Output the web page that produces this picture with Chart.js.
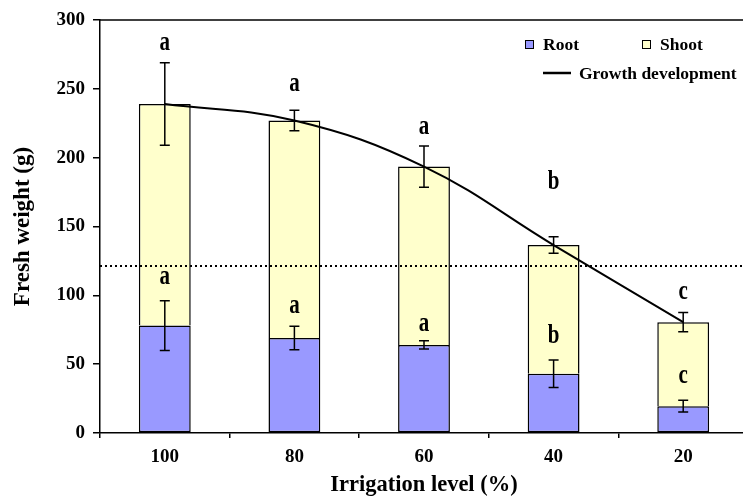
<!DOCTYPE html>
<html>
<head>
<meta charset="utf-8">
<script src="https://cdn.jsdelivr.net/npm/chart.js@4/dist/chart.umd.min.js"></script>
<style>
  html, body { margin: 0; padding: 0; background: #fff; overflow: hidden; }
  #wrap { width: 743px; height: 499px; overflow: hidden; }
</style>
</head>
<body>
<div id="wrap"><canvas id="c" width="748" height="499"></canvas></div>
<script>
// Fresh weight of root and shoot at each irrigation level
const categories = ['100', '80', '60', '40', '20'];
const rootValues = [78, 69, 64, 43, 19.5];
const shootValues = [161, 158, 129.5, 93.5, 61];
const rootErrors = [18, 8.5, 3, 10, 4.3];
const totalErrors = [30, 7.5, 15, 6, 7];
const rootLetters = ['a', 'a', 'a', 'b', 'c'];
const totalLetters = ['a', 'a', 'a', 'b', 'c'];
// value-axis anchors of the significance letters
const rootLetterAt = [113, 92, 79, 70, 41];
const totalLetterAt = [283, 253, 222, 182, 102];
const referenceLevel = 121;
const yTicks = [0, 50, 100, 150, 200, 250, 300];

const totals = rootValues.map((r, i) => r + shootValues[i]);

const FONT = "'Liberation Serif', 'Times New Roman', serif";

const overlay = {
  id: 'overlay',
  afterDatasetsDraw(chart) {
    const ctx = chart.ctx;
    const x = chart.scales.x, y = chart.scales.y;
    const area = chart.chartArea;
    ctx.save();
    // dotted reference level
    ctx.strokeStyle = '#000';
    ctx.lineWidth = 2;
    ctx.setLineDash([2, 3]);
    ctx.beginPath();
    const yr = Math.round(y.getPixelForValue(referenceLevel));
    ctx.moveTo(area.left, yr);
    ctx.lineTo(area.right, yr);
    ctx.stroke();
    ctx.setLineDash([]);

    // error bars
    ctx.lineWidth = 1.5;
    const cap = 5;
    const drawErr = (xc, v, e) => {
      const y1 = y.getPixelForValue(v + e), y2 = y.getPixelForValue(v - e);
      ctx.beginPath();
      ctx.moveTo(xc, y1); ctx.lineTo(xc, y2);
      ctx.moveTo(xc - cap, y1); ctx.lineTo(xc + cap, y1);
      ctx.moveTo(xc - cap, y2); ctx.lineTo(xc + cap, y2);
      ctx.stroke();
    };
    categories.forEach((c, i) => {
      const xc = x.getPixelForValue(i);
      drawErr(xc, rootValues[i], rootErrors[i]);
      drawErr(xc, totals[i], totalErrors[i]);
    });

    // significance letters (tall bold face)
    ctx.fillStyle = '#000';
    ctx.font = 'bold 21px ' + FONT;
    ctx.textAlign = 'center';
    ctx.textBaseline = 'middle';
    const letter = (t, xc, yc) => {
      ctx.save();
      ctx.translate(xc, yc);
      ctx.scale(1, 1.25);
      ctx.fillText(t, 0, 0);
      ctx.restore();
    };
    categories.forEach((c, i) => {
      const xc = x.getPixelForValue(i);
      letter(totalLetters[i], xc, y.getPixelForValue(totalLetterAt[i]));
      letter(rootLetters[i], xc, y.getPixelForValue(rootLetterAt[i]));
    });
    ctx.restore();
  },
  afterDraw(chart) {
    const ctx = chart.ctx;
    const area = chart.chartArea;
    ctx.save();
    // top frame line
    ctx.strokeStyle = '#000';
    ctx.lineWidth = 1.5;
    ctx.beginPath();
    ctx.moveTo(area.left, area.top);
    ctx.lineTo(chart.width, area.top);
    ctx.stroke();

    // legend
    ctx.font = 'bold 17.5px ' + FONT;
    ctx.textBaseline = 'middle';
    ctx.textAlign = 'left';
    ctx.fillStyle = '#000';
    const items = [
      { color: '#9999ff', label: 'Root', x: 525, y: 44 },
      { color: '#ffffcc', label: 'Shoot', x: 642, y: 44 }
    ];
    items.forEach(it => {
      ctx.fillStyle = it.color;
      ctx.fillRect(it.x, it.y - 4, 8, 8);
      ctx.lineWidth = 1;
      ctx.strokeStyle = '#000';
      ctx.strokeRect(it.x + 0.5, it.y - 3.5, 8, 8);
      ctx.fillStyle = '#000';
      ctx.fillText(it.label, it.x + 18, it.y + 1);
    });
    ctx.lineWidth = 2.5;
    ctx.beginPath();
    ctx.moveTo(543, 73);
    ctx.lineTo(571, 73);
    ctx.stroke();
    ctx.fillText('Growth development', 579, 74);
    ctx.restore();
  }
};

new Chart(document.getElementById('c'), {
  type: 'bar',
  data: {
    labels: categories,
    datasets: [
      {
        type: 'line',
        label: 'Growth development',
        data: totals,
        borderColor: '#000',
        borderWidth: 2,
        pointRadius: 0,
        tension: 0.4,
        fill: false,
        stack: 'growth',
        order: 0
      },
      {
        label: 'Root',
        data: rootValues,
        backgroundColor: '#9999ff',
        borderColor: '#000',
        borderWidth: 1.5,
        borderSkipped: false,
        stack: 'weight',
        order: 1
      },
      {
        label: 'Shoot',
        data: shootValues,
        backgroundColor: '#ffffcc',
        borderColor: '#000',
        borderWidth: 1.5,
        borderSkipped: 'bottom',
        stack: 'weight',
        order: 1
      }
    ]
  },
  options: {
    responsive: false,
    animation: false,
    events: [],
    layout: { padding: { top: 20, right: 0, left: 0, bottom: 0 } },
    datasets: { bar: { categoryPercentage: 1, barPercentage: 0.4 } },
    plugins: { legend: { display: false }, tooltip: { enabled: false } },
    scales: {
      x: {
        stacked: true,
        grid: { display: true, offset: true, drawOnChartArea: false, tickLength: 5, color: '#000', lineWidth: 1.5 },
        border: { display: true, color: '#000', width: 1.5 },
        ticks: { color: '#000', font: { family: FONT, size: 19, weight: 'bold' }, padding: 8 },
        title: { display: true, text: 'Irrigation level (%)', color: '#000', font: { family: FONT, size: 22.5, weight: 'bold' }, padding: { top: 0, bottom: 0 } },
        afterFit(s) { s.height = 66; }
      },
      y: {
        stacked: true,
        min: 0,
        max: 300,
        afterBuildTicks(s) { s.ticks = yTicks.map(v => ({ value: v })); },
        grid: { display: true, drawOnChartArea: false, tickLength: 7, color: '#000', lineWidth: 1.5 },
        border: { display: true, color: '#000', width: 1.5 },
        ticks: { color: '#000', font: { family: FONT, size: 19, weight: 'bold' }, padding: 8 },
        title: { display: true, text: 'Fresh weight (g)', color: '#000', font: { family: FONT, size: 23, weight: 'bold' }, padding: { top: 9, bottom: 0 } },
        afterFit(s) { s.width = 100; }
      }
    }
  },
  plugins: [overlay]
});
</script>
</body>
</html>
